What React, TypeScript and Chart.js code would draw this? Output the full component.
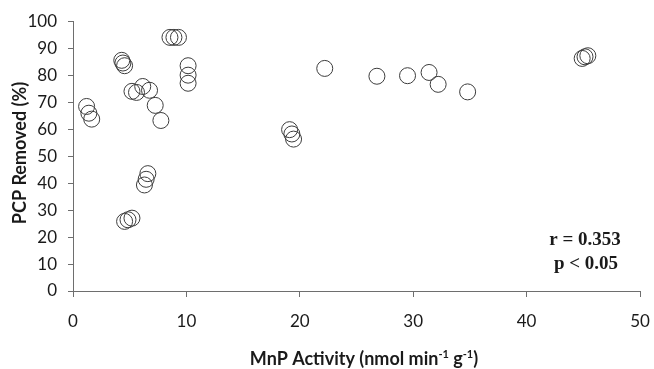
import React, { useEffect, useRef } from "react";
import { Chart, registerables } from "chart.js";

Chart.register(...registerables);

const mnpActivity: number[] = [
  1.2, 1.4, 1.65,
  4.3, 4.4, 4.55,
  5.2, 5.6, 6.15, 6.75, 7.25, 7.75,
  8.55, 8.9, 9.3,
  10.15, 10.15, 10.15,
  6.6, 6.45, 6.3,
  5.2, 4.85, 4.55,
  19.1, 19.3, 19.45,
  22.2, 26.8, 29.5, 31.4, 32.2, 34.8,
  44.9, 45.15, 45.4,
];

const pcpRemoved: number[] = [
  68.4, 65.9, 63.7,
  85.5, 84.5, 83.5,
  74.0, 73.6, 75.8, 74.4, 68.8, 63.2,
  94.0, 94.0, 94.0,
  83.5, 80.0, 77.0,
  43.5, 41.4, 39.3,
  27.0, 26.4, 25.8,
  59.8, 58.2, 56.3,
  82.5, 79.6, 79.8, 81.0, 76.6, 73.8,
  86.2, 86.8, 87.2,
];

const xTicks: number[] = [0, 10, 20, 30, 40, 50];
const yTicks: number[] = [0, 10, 20, 30, 40, 50, 60, 70, 80, 90, 100];

const yTitle = "PCP Removed (%)";
const xTitleParts: { text: string; sup: boolean }[] = [
  { text: "MnP Activity (nmol min", sup: false },
  { text: "-1", sup: true },
  { text: " g", sup: false },
  { text: "-1", sup: true },
  { text: ")", sup: false },
];
const statLines: string[] = ["r = 0.353", "p < 0.05"];

const labelPlugin = {
  id: "customLabels",
  afterDraw(chart: any) {
    const ctx = chart.ctx as CanvasRenderingContext2D;
    ctx.save();
    ctx.fillStyle = "#1a1a1a";
    // y title
    ctx.save();
    ctx.translate(20, 153);
    ctx.rotate(-Math.PI / 2);
    ctx.font = "bold 18px Lato";
    ctx.textAlign = "center";
    ctx.textBaseline = "middle";
    ctx.fillText(yTitle, 0, 0);
    ctx.restore();

    // x title with superscripts
    const mainFont = "bold 18px Lato";
    const supFont = "bold 11px Lato";
    let total = 0;
    const widths: number[] = [];
    for (const p of xTitleParts) {
      ctx.font = p.sup ? supFont : mainFont;
      const w = ctx.measureText(p.text).width;
      widths.push(w);
      total += w;
    }
    let x = 364 - total / 2;
    const baseY = 365;
    ctx.textAlign = "left";
    ctx.textBaseline = "alphabetic";
    xTitleParts.forEach((p, i) => {
      ctx.font = p.sup ? supFont : mainFont;
      ctx.fillText(p.text, x, p.sup ? baseY - 7 : baseY);
      x += widths[i];
    });

    // stats annotation
    ctx.font = "bold 19px 'Liberation Serif'";
    ctx.textAlign = "center";
    ctx.textBaseline = "middle";
    ctx.fillText(statLines[0], 585, 240);
    ctx.fillText(statLines[1], 586, 264);
    ctx.restore();
  },
};

export default function App() {
  const ref = useRef<HTMLCanvasElement | null>(null);
  useEffect(() => {
    if (!ref.current) return;
    const points = mnpActivity.map((x, i) => ({ x, y: pcpRemoved[i] }));
    const axisColor = "#6e6e6e";
    const chart = new Chart(ref.current, {
      type: "scatter",
      data: {
        datasets: [
          {
            data: points,
            pointRadius: 8,
            pointHoverRadius: 8,
            pointBorderWidth: 1,
            borderColor: "#3c3c3c",
            backgroundColor: "rgba(0,0,0,0)",
            pointBackgroundColor: "rgba(0,0,0,0)",
          },
        ],
      },
      options: {
        responsive: false,
        animation: false,
        layout: { padding: { top: 19, right: 0, left: 0, bottom: 0 } },
        plugins: {
          legend: { display: false },
          tooltip: { enabled: false },
        },
        scales: {
          x: {
            type: "linear",
            min: 0,
            max: 50,
            afterBuildTicks: (scale: any) => {
              scale.ticks = xTicks.map((v) => ({ value: v }));
            },
            afterFit: (scale: any) => {
              scale.height = 78;
              scale.paddingRight = 14;
              scale.paddingLeft = 0;
            },
            ticks: {
              font: { family: "Lato", size: 17 },
              color: "#1a1a1a",
              padding: 14,
              maxRotation: 0,
            },
            grid: {
              drawOnChartArea: false,
              drawTicks: true,
              tickLength: 6,
              color: axisColor,
            },
            border: { display: true, color: axisColor, width: 1 },
          },
          y: {
            type: "linear",
            min: 0,
            max: 100,
            afterBuildTicks: (scale: any) => {
              scale.ticks = yTicks.map((v) => ({ value: v }));
            },
            afterFit: (scale: any) => {
              scale.width = 73;
            },
            ticks: {
              font: { family: "Lato", size: 17 },
              color: "#1a1a1a",
              padding: 11,
            },
            grid: {
              drawOnChartArea: false,
              drawTicks: true,
              tickLength: 5,
              color: axisColor,
            },
            border: { display: true, color: axisColor, width: 1 },
          },
        },
      },
      plugins: [labelPlugin],
    });
    return () => chart.destroy();
  }, []);
  return (
    <div style={{ position: "absolute", left: 0, top: 0, width: 654, height: 369, background: "#fff" }}>
      <canvas ref={ref} width={654} height={369} />
    </div>
  );
}
